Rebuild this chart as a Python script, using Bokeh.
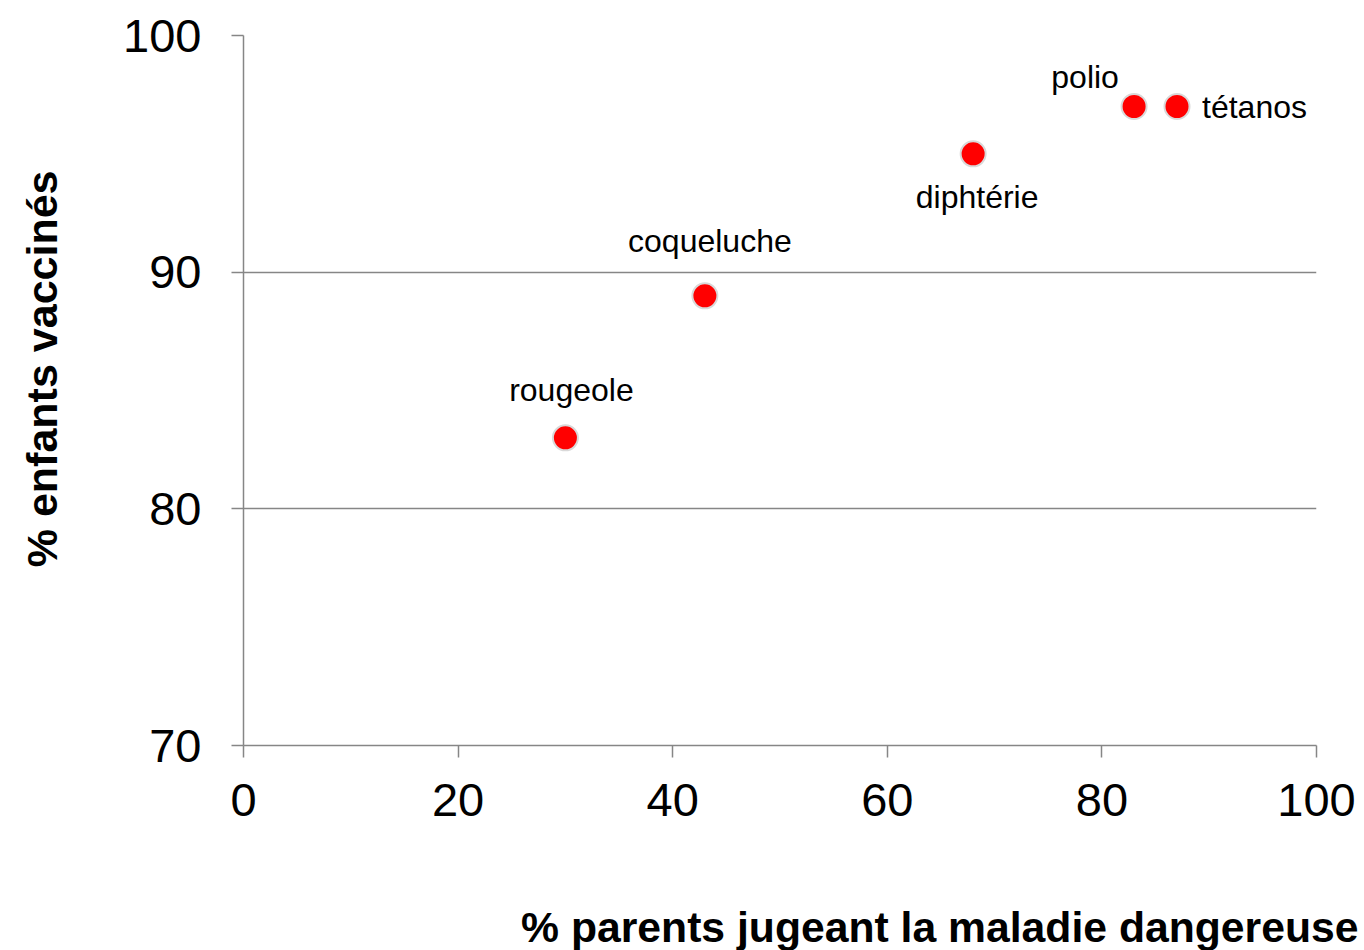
from bokeh.plotting import figure
from bokeh.models import ColumnDataSource, Range1d, FixedTicker, LabelSet, Title
from bokeh.core.properties import value
from bokeh.embed import file_html
from bokeh.resources import INLINE

# data
maladies = ["rougeole", "coqueluche", "diphtérie", "polio", "tétanos"]
parents_dangereuse = [30, 43, 68, 83, 87]
enfants_vaccines = [83, 89, 95, 97, 97]
x_ticks = [0, 20, 40, 60, 80, 100]
y_ticks = [70, 80, 90, 100]
x_title = "% parents jugeant la maladie dangereuse"
y_title = "% enfants vaccinés"

# label placement (style)
lab_dx = [6, 5, 4, -49, 25]
lab_dy = [48, 55, -43, 30, 0]
lab_align = ["center", "center", "center", "center", "left"]

FONT = "Liberation Sans"
GREY = "#868686"

src = ColumnDataSource(dict(x=parents_dangereuse, y=enfants_vaccines, name=maladies,
                            dx=lab_dx, dy=lab_dy, align=lab_align))

p = figure(width=1364, height=950, output_backend="svg", toolbar_location=None,
           x_range=Range1d(0, 100), y_range=Range1d(70, 100),
           min_border_left=243, min_border_right=48, min_border_top=35, min_border_bottom=204)
p.outline_line_color = None
p.background_fill_color = "white"

for ax in (p.xaxis[0], p.yaxis[0]):
    ax.axis_line_color = GREY
    ax.axis_line_width = 1.5
    ax.major_tick_line_color = GREY
    ax.major_tick_line_width = 1.5
    ax.major_tick_in = 0
    ax.major_tick_out = 12
    ax.minor_tick_line_color = None
    ax.major_label_text_font = FONT
    ax.major_label_text_font_size = "47px"
    ax.major_label_text_color = "black"
    # blank spacer label to push the titles outward
    ax.axis_label = " "
    ax.axis_label_text_font_size = "20px"

p.xaxis[0].ticker = FixedTicker(ticks=x_ticks)
p.yaxis[0].ticker = FixedTicker(ticks=y_ticks)
p.xaxis[0].major_label_standoff = 26
p.yaxis[0].major_label_standoff = 30
p.xaxis[0].axis_label_standoff = 57
p.yaxis[0].axis_label_standoff = 30

p.xgrid.grid_line_color = None
p.ygrid.ticker = FixedTicker(ticks=y_ticks)
p.ygrid.grid_line_color = GREY
p.ygrid.grid_line_width = 1.5

p.scatter("x", "y", source=src, size=25, fill_color="#ff0000", line_color="#d9d9d9", line_width=2)

labels = LabelSet(x="x", y="y", text="name", source=src, x_offset="dx", y_offset="dy",
                  text_align="align", text_baseline="middle",
                  text_font=value(FONT), text_font_size="32px", text_color="black")
p.add_layout(labels)

xt = Title(text=x_title, align="right", offset=-42, standoff=0, vertical_align="bottom",
           text_font=FONT, text_font_size="42.7px", text_font_style="bold", text_color="black")
p.add_layout(xt, "below")
yt = Title(text=y_title, align="right", offset=135, standoff=0, vertical_align="bottom",
           text_font=FONT, text_font_size="43px", text_font_style="bold", text_color="black")
p.add_layout(yt, "left")

open("out.html", "w").write(file_html(p, INLINE))
